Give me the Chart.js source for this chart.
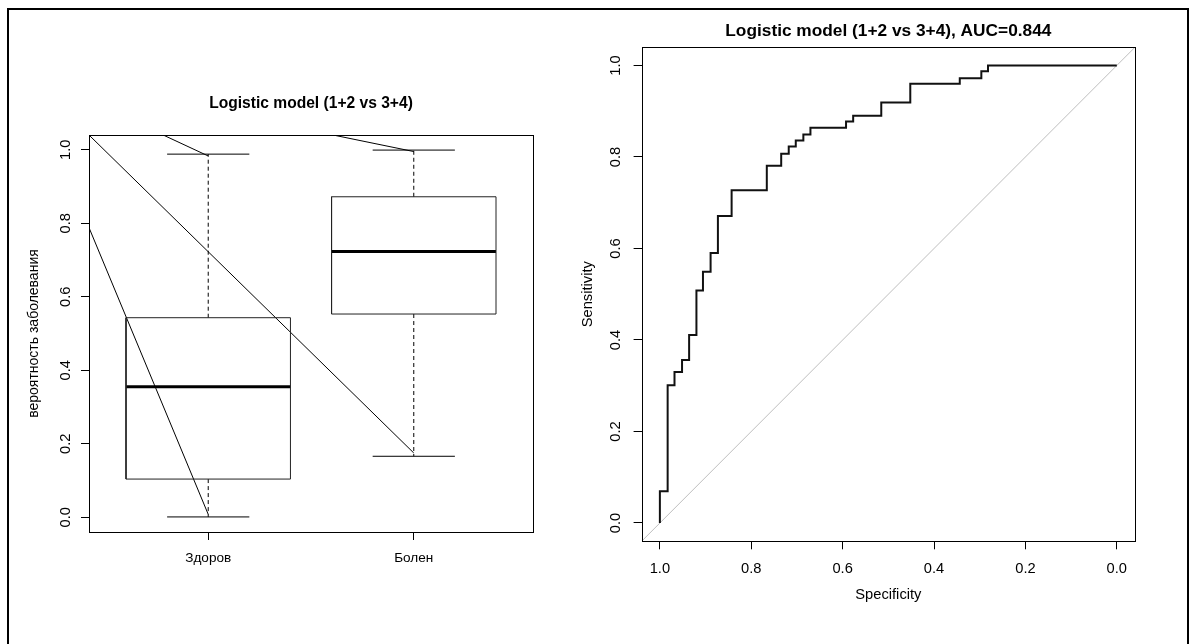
<!DOCTYPE html>
<html><head><meta charset="utf-8">
<script src="https://cdn.jsdelivr.net/npm/chart.js@4/dist/chart.umd.min.js"></script>
<style>
html,body{margin:0;padding:0;background:#fff;width:1189px;height:644px;overflow:hidden;position:relative}
#frame{position:absolute;left:7px;top:8px;width:1181.5px;height:700px;border:2px solid #000;border-bottom:none;box-sizing:border-box}
#c1{position:absolute;left:0;top:0}
#c2{position:absolute;left:560px;top:0}
</style></head><body>
<div id="frame"></div>
<canvas id="c1" width="560" height="644"></canvas>
<canvas id="c2" width="629" height="644"></canvas>
<script>
// ---------- Left panel: box plot data ----------
const groups = ['Здоров', 'Болен'];
const groupIndex = [1, 2];
const lowerWhisker = [0.001, 0.166];
const lowerQuartile = [0.104, 0.553];
const medians = [0.355, 0.723];
const upperQuartile = [0.543, 0.872];
const upperWhisker = [0.988, 0.999];
const probTicks = [0, 0.2, 0.4, 0.6, 0.8, 1.0];
// stray straight lines visible in the panel: [x1, y1, x2, y2]
const strayLines = [
  [0.42, 1.04, 2.0, 0.175],
  [0.42, 0.788, 1.0, 0.008],
  [0.781, 1.04, 1.0, 0.983],
  [1.608, 1.04, 2.0, 0.995]
];

// ---------- Right panel: ROC curve ----------
const specificity = [1.0, 0.983, 0.968, 0.9515, 0.936, 0.920, 0.9057, 0.889, 0.873, 0.843, 0.766, 0.7345, 0.718, 0.7026, 0.686, 0.6705, 0.5926, 0.577, 0.5155, 0.452, 0.3437, 0.2965, 0.2819, 0.0];
const sensitivity = [0.0, 0.0695, 0.301, 0.330, 0.356, 0.411, 0.508, 0.549, 0.590, 0.671, 0.727, 0.781, 0.807, 0.823, 0.836, 0.849, 0.8636, 0.8776, 0.890, 0.919, 0.960, 0.9723, 0.9875, 1.0];
const chanceSpec = [1.04, -0.04];
const chanceSens = [-0.04, 1.04];
const rocTicks = [1.0, 0.8, 0.6, 0.4, 0.2, 0.0];

const BOX_HALF = 0.4, CAP_HALF = 0.2;
const FONT = '"Liberation Sans", Arial, Helvetica, sans-serif';
Chart.defaults.font.family = FONT;
Chart.defaults.font.size = 14.7;
Chart.defaults.color = '#000';

const framePlugin = {
  id: 'frame',
  afterDraw(chart) {
    const {ctx, chartArea: a} = chart;
    ctx.save();
    ctx.strokeStyle = '#000';
    ctx.lineWidth = 1;
    const l = Math.round(a.left) + 0.5, t = Math.round(a.top) + 0.5;
    const r = Math.round(a.right) + 0.5, b = Math.round(a.bottom) + 0.5;
    ctx.strokeRect(l, t, r - l, b - t);
    ctx.restore();
  }
};

function seg(points, extra) {
  return Object.assign({
    data: points, showLine: true, pointRadius: 0, borderColor: '#000',
    borderWidth: 1, fill: false, tension: 0
  }, extra || {});
}

const leftSets = [];
groupIndex.forEach((x, i) => {
  leftSets.push(seg([
    {x: x - BOX_HALF, y: lowerQuartile[i]}, {x: x + BOX_HALF, y: lowerQuartile[i]},
    {x: x + BOX_HALF, y: upperQuartile[i]}, {x: x - BOX_HALF, y: upperQuartile[i]},
    {x: x - BOX_HALF, y: lowerQuartile[i]}], {borderColor: '#222'}));
  leftSets.push(seg([{x: x - BOX_HALF, y: medians[i]}, {x: x + BOX_HALF, y: medians[i]}], {borderWidth: 3, borderCapStyle: 'butt'}));
  leftSets.push(seg([{x: x, y: upperQuartile[i]}, {x: x, y: upperWhisker[i]}], {borderDash: [4, 3]}));
  leftSets.push(seg([{x: x, y: lowerQuartile[i]}, {x: x, y: lowerWhisker[i]}], {borderDash: [4, 3]}));
  leftSets.push(seg([{x: x - CAP_HALF, y: upperWhisker[i]}, {x: x + CAP_HALF, y: upperWhisker[i]}]));
  leftSets.push(seg([{x: x - CAP_HALF, y: lowerWhisker[i]}, {x: x + CAP_HALF, y: lowerWhisker[i]}]));
});
strayLines.forEach(l => leftSets.push(seg([{x: l[0], y: l[1]}, {x: l[2], y: l[3]}])));

const tickGrid = {display: true, drawOnChartArea: false, drawTicks: true, tickLength: 8, color: '#000', lineWidth: 1};

new Chart(document.getElementById('c1'), {
  type: 'scatter',
  data: {datasets: leftSets},
  plugins: [framePlugin],
  options: {
    responsive: false, animation: false, events: [],
    layout: {padding: {left: 0, top: 0, right: 27, bottom: 0}},
    plugins: {
      legend: {display: false}, tooltip: {enabled: false},
      title: {display: true, text: 'Logistic model (1+2 vs 3+4)', fullSize: false,
        font: {size: 15.6, weight: 'bold'}, color: '#000', padding: {top: 94.3, bottom: 22}}
    },
    scales: {
      x: {
        type: 'linear', min: 0.42, max: 2.58,
        afterFit: s => { s.height = 112; },
        afterBuildTicks: s => { s.ticks = groupIndex.map(v => ({value: v})); },
        ticks: {callback: v => groups[groupIndex.indexOf(v)], padding: 10, maxRotation: 0, autoSkip: false, font: {size: 13.6}},
        grid: tickGrid, border: {display: false}
      },
      y: {
        type: 'linear', min: -0.04, max: 1.04,
        afterFit: s => { s.width = 89; },
        afterBuildTicks: s => { s.ticks = probTicks.map(v => ({value: v})); },
        ticks: {callback: v => Number(v).toFixed(1), minRotation: 90, maxRotation: 90, crossAlign: 'center', padding: 4.8, autoSkip: false},
        grid: tickGrid, border: {display: false},
        title: {display: true, text: 'вероятность заболевания', padding: {top: 25.5, bottom: 0}, color: '#000', font: {size: 14}}
      }
    }
  }
});

new Chart(document.getElementById('c2'), {
  type: 'scatter',
  data: {datasets: [
    seg(specificity.map((s, i) => ({x: s, y: sensitivity[i]})), {borderWidth: 2, stepped: 'after', borderColor: '#111'}),
    seg([{x: chanceSpec[0], y: chanceSens[0]}, {x: chanceSpec[1], y: chanceSens[1]}], {borderColor: '#bebebe'})
  ]},
  plugins: [framePlugin],
  options: {
    responsive: false, animation: false, events: [],
    layout: {padding: {left: 0, top: 0, right: 53.9, bottom: 0}},
    plugins: {
      legend: {display: false}, tooltip: {enabled: false},
      title: {display: true, text: 'Logistic model (1+2 vs 3+4), AUC=0.844', fullSize: false,
        font: {size: 17.3, weight: 'bold'}, color: '#000', padding: {top: 21.3, bottom: 5.1}}
    },
    scales: {
      x: {
        type: 'linear', reverse: true, min: -0.04, max: 1.04,
        afterFit: s => { s.height = 102.7; },
        afterBuildTicks: s => { s.ticks = rocTicks.map(v => ({value: v})); },
        ticks: {callback: v => Number(v).toFixed(1), padding: 10.9, maxRotation: 0, autoSkip: false},
        grid: tickGrid, border: {display: false},
        title: {display: true, text: 'Specificity', padding: {top: 0, bottom: 40.2}, color: '#000'}
      },
      y: {
        type: 'linear', min: -0.04, max: 1.04,
        afterFit: s => { s.width = 81.6; },
        afterBuildTicks: s => { s.ticks = rocTicks.map(v => ({value: v})); },
        ticks: {callback: v => Number(v).toFixed(1), minRotation: 90, maxRotation: 90, crossAlign: 'center', padding: 7.8, autoSkip: false},
        grid: tickGrid, border: {display: false},
        title: {display: true, text: 'Sensitivity', padding: {top: 18.7, bottom: 0}, color: '#000'}
      }
    }
  }
});
</script></body></html>
